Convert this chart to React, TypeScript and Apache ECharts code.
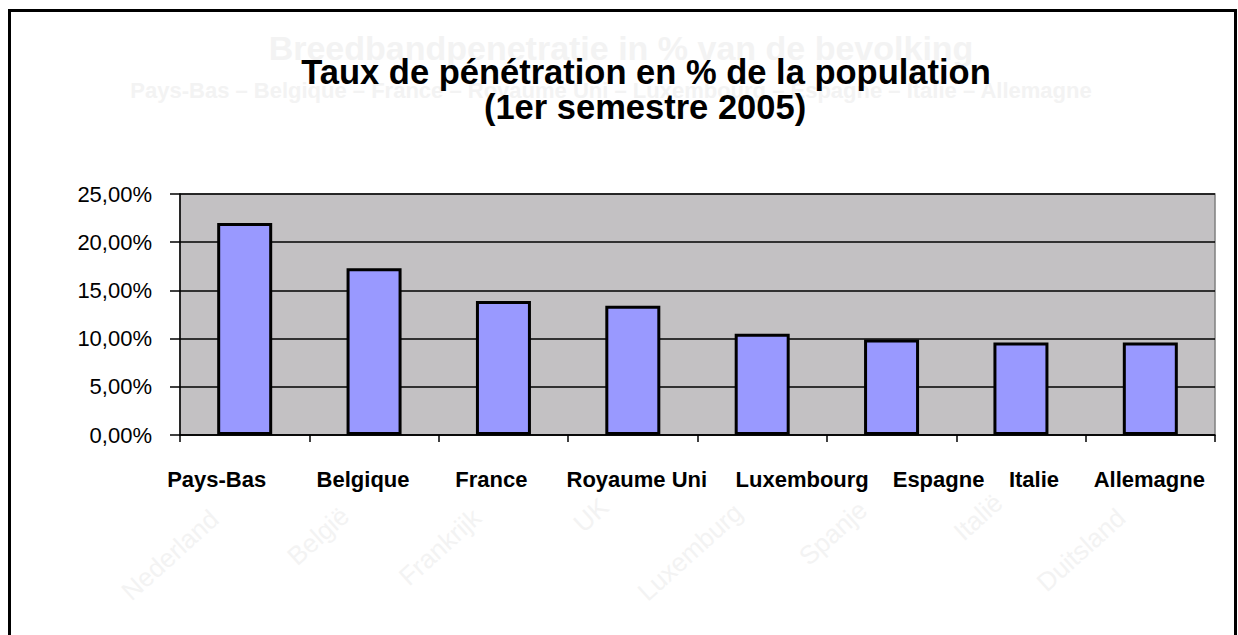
import React, { useEffect, useRef } from "react";
import * as echarts from "echarts";

const categories = ["Pays-Bas", "Belgique", "France", "Royaume Uni", "Luxembourg", "Espagne", "Italie", "Allemagne"];
const values = [22.0, 17.3, 13.9, 13.4, 10.5, 9.9, 9.6, 9.6];
const titleLines = ["Taux de pénétration en % de la population", "(1er semestre 2005)"];
const ghostTitle = "Breedbandpenetratie in % van de bevolking";
const ghostSubtitle = "Pays-Bas – Belgique – France – Royaume Uni – Luxembourg – Espagne – Italie – Allemagne";
const ghostLabels = ["Nederland", "België", "Frankrijk", "UK", "Luxemburg", "Spanje", "Italië", "Duitsland"];

// layout-only: horizontal shift of each category label (px) and ghost label positions
const labelShift = [-28, -11, -12, 4, 40, 47, 13, -1];
const ghostPos = [[170, 555], [318, 536], [440, 547], [591, 515], [690, 552], [833, 533], [978, 517], [1081, 550]];

export default function App() {
  const ref = useRef<HTMLDivElement>(null);
  useEffect(() => {
    const chart = echarts.init(ref.current!, null, { renderer: "svg" });
    const font = "'Liberation Sans', Arial, sans-serif";
    const ghost = "#f3f3f3";
    const rich: Record<string, any> = {};
    labelShift.forEach((s, i) => {
      rich["c" + i] = {
        fontFamily: font, fontWeight: "bold", fontSize: 22, color: "#000",
        padding: [0, s < 0 ? -2 * s : 0, 0, s > 0 ? 2 * s : 0],
      };
    });
    chart.setOption({
      animation: false,
      backgroundColor: "#ffffff",
      graphic: [
        {
          type: "rect",
          shape: { x: 9.5, y: 10.5, width: 1226, height: 700 },
          style: { fill: "none", stroke: "#000", lineWidth: 3 },
          z: 0,
        },
        {
          type: "text", x: 621, y: 48,
          style: { text: ghostTitle, font: `bold 34px ${font}`, fill: ghost, align: "center", verticalAlign: "middle" },
          z: 0,
        },
        {
          type: "text", x: 611, y: 90,
          style: { text: ghostSubtitle, font: `bold 22px ${font}`, fill: ghost, align: "center", verticalAlign: "middle" },
          z: 0,
        },
        ...ghostLabels.map((t, i) => ({
          type: "text", x: ghostPos[i][0], y: ghostPos[i][1], rotation: (42 * Math.PI) / 180,
          style: { text: t, font: `26px ${font}`, fill: ghost, align: "center", verticalAlign: "middle" },
          z: 0,
        })),
        {
          type: "text", x: 646, y: 72,
          style: { text: titleLines[0], font: `bold 34.5px ${font}`, fill: "#000", align: "center", verticalAlign: "middle" },
          z: 10,
        },
        {
          type: "text", x: 645, y: 107,
          style: { text: titleLines[1], font: `bold 34.5px ${font}`, fill: "#000", align: "center", verticalAlign: "middle" },
          z: 10,
        },
      ],
      grid: {
        left: 180, top: 194, width: 1035, height: 241,
        show: true, backgroundColor: "#c3c1c3", borderColor: "#808080", borderWidth: 1.5,
      },
      xAxis: {
        type: "category",
        data: categories,
        boundaryGap: true,
        axisLine: { lineStyle: { color: "#000", width: 1.5 } },
        axisTick: { show: true, length: 7, lineStyle: { color: "#000", width: 1.5 } },
        axisLabel: {
          margin: 33, interval: 0,
          formatter: (v: string, i: number) => `{c${i}|${v}}`,
          rich,
        },
        splitLine: { show: false },
      },
      yAxis: {
        type: "value",
        min: 0, max: 25, interval: 5,
        axisLine: { show: true, lineStyle: { color: "#000", width: 1.5 } },
        axisTick: { show: true, length: 10, lineStyle: { color: "#000", width: 1.5 } },
        axisLabel: {
          fontFamily: font, fontSize: 22, color: "#000", margin: 28,
          formatter: (v: number) => v.toFixed(2).replace(".", ",") + "%",
        },
        splitLine: { show: true, lineStyle: { color: "#000", width: 1.5 } },
      },
      series: [
        {
          type: "bar",
          data: values,
          barWidth: 55,
          itemStyle: { color: "#9999ff", borderColor: "#000", borderWidth: 3 },
        },
      ],
    });
    return () => chart.dispose();
  }, []);
  return <div ref={ref} style={{ position: "fixed", left: 0, top: 0, width: 1238, height: 635 }} />;
}
